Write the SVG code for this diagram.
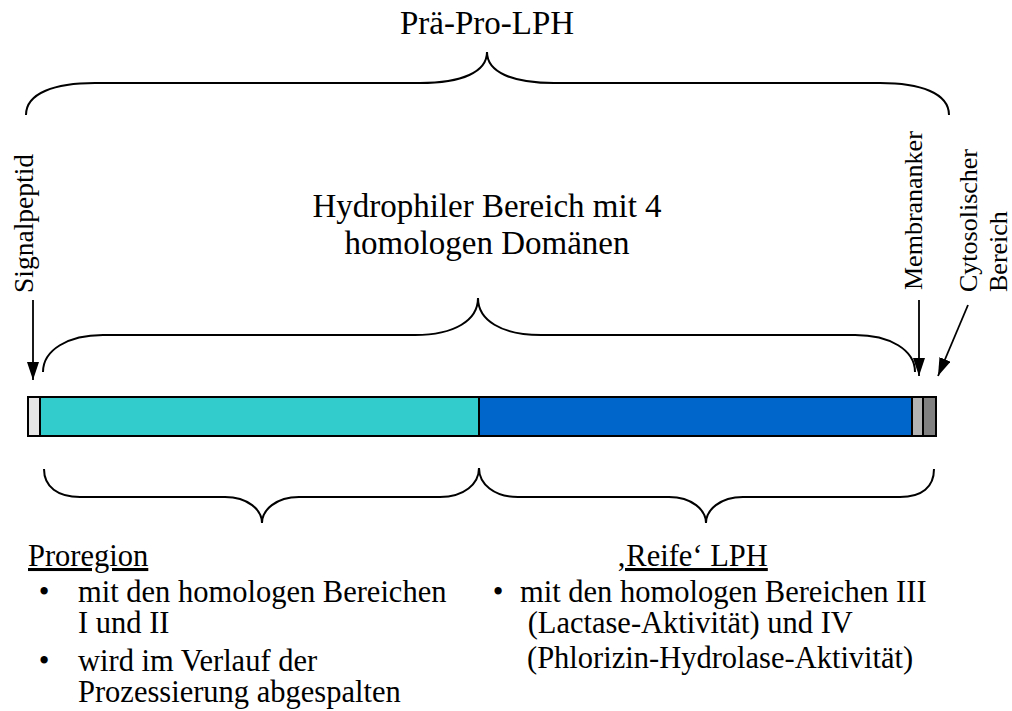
<svg xmlns="http://www.w3.org/2000/svg" width="1012" height="711" viewBox="0 0 1012 711">
<defs>
<style>
text{font-family:"Liberation Serif","Times New Roman",serif;fill:#000}
.h{font-size:33px}
.t{font-size:30.5px}
.r{font-size:26px}
.brace{fill:none;stroke:#000;stroke-width:2}
.seg{stroke:#000;stroke-width:2}
.arr{stroke:#000;stroke-width:1.8;fill:none;marker-end:url(#ah)}
</style>
<marker id="ah" viewBox="0 0 18 12" refX="18" refY="6" markerWidth="18" markerHeight="12" markerUnits="userSpaceOnUse" orient="auto">
<path d="M0,0 L18,6 L0,12 z" fill="#000"/>
</marker>
</defs>
<rect width="1012" height="711" fill="#fff"/>

<g id="title">
<text class="h" x="487" y="34" text-anchor="middle">Prä-Pro-LPH</text>
</g>
<g id="hydrophil-label">
<text class="h" x="487" y="217" text-anchor="middle">Hydrophiler Bereich mit 4</text>
<text class="h" x="487" y="254" text-anchor="middle">homologen Domänen</text>
</g>

<g id="connectors">
<path class="brace" d="M26,115 C26,93 55,83 95,83 L420,83 C462,83 487,72 487,52 C487,72 512,83 554,83 L880,83 C920,83 949,93 949,115"/>
<path class="brace" d="M43,372 C43,350 68,335 103,335 L415,335 C455,335 478,320 478,298 C478,320 501,335 541,335 L855,335 C890,335 915,350 915,372"/>
<path class="brace" d="M44,469 C44,487 58,497 80,497 L225,497 C248,497 262,510 262,523 C262,510 276,497 299,497 L440,497 C464,497 479,484 479,468 C479,484 494,497 518,497 L669,497 C692,497 706,510 706,523 C706,510 720,497 743,497 L900,497 C922,497 934,487 934,469"/>
<path class="arr" d="M33,300 L33,380"/>
<path class="arr" d="M919,300 L919,376"/>
<path class="arr" d="M968,305 L938,376"/>
</g>

<g id="bar">
<rect class="seg" x="28" y="397" width="12" height="39" fill="#e6e6e6"/>
<rect class="seg" x="40" y="397" width="439" height="39" fill="#33cccc"/>
<rect class="seg" x="479" y="397" width="433" height="39" fill="#0066cc"/>
<rect class="seg" x="912" y="397" width="11" height="39" fill="#b3b3b3"/>
<rect class="seg" x="923" y="397" width="13" height="39" fill="#808080"/>
</g>

<g id="signalpeptid">
<text class="r" transform="translate(33,293) rotate(-90)" style="font-size:27.5px">Signalpeptid</text>
</g>
<g id="membrananker">
<text class="r" transform="translate(922,290) rotate(-90)">Membrananker</text>
</g>
<g id="cytosolisch">
<text class="r" transform="translate(977,292) rotate(-90)">Cytosolischer</text>
<text class="r" transform="translate(1007,292) rotate(-90)">Bereich</text>
</g>

<g id="proregion">
<text class="t" x="28" y="566" text-decoration="underline">Proregion</text>
<text class="t" x="44" y="602" text-anchor="middle">•</text>
<text class="t" x="78" y="602">mit den homologen Bereichen</text>
<text class="t" x="78" y="633">I und II</text>
<text class="t" x="44" y="671" text-anchor="middle">•</text>
<text class="t" x="78" y="671">wird im Verlauf der</text>
<text class="t" x="78" y="702">Prozessierung abgespalten</text>
</g>

<g id="reife">
<text class="t" x="692" y="566" text-anchor="middle" text-decoration="underline">‚Reife‘ LPH</text>
<text class="t" x="498" y="602" text-anchor="middle">•</text>
<text class="t" x="520" y="602">mit den homologen Bereichen III</text>
<text class="t" x="520" y="633" xml:space="preserve"> (Lactase-Aktivität) und IV</text>
<text class="t" x="527" y="668">(Phlorizin-Hydrolase-Aktivität)</text>
</g>
</svg>
